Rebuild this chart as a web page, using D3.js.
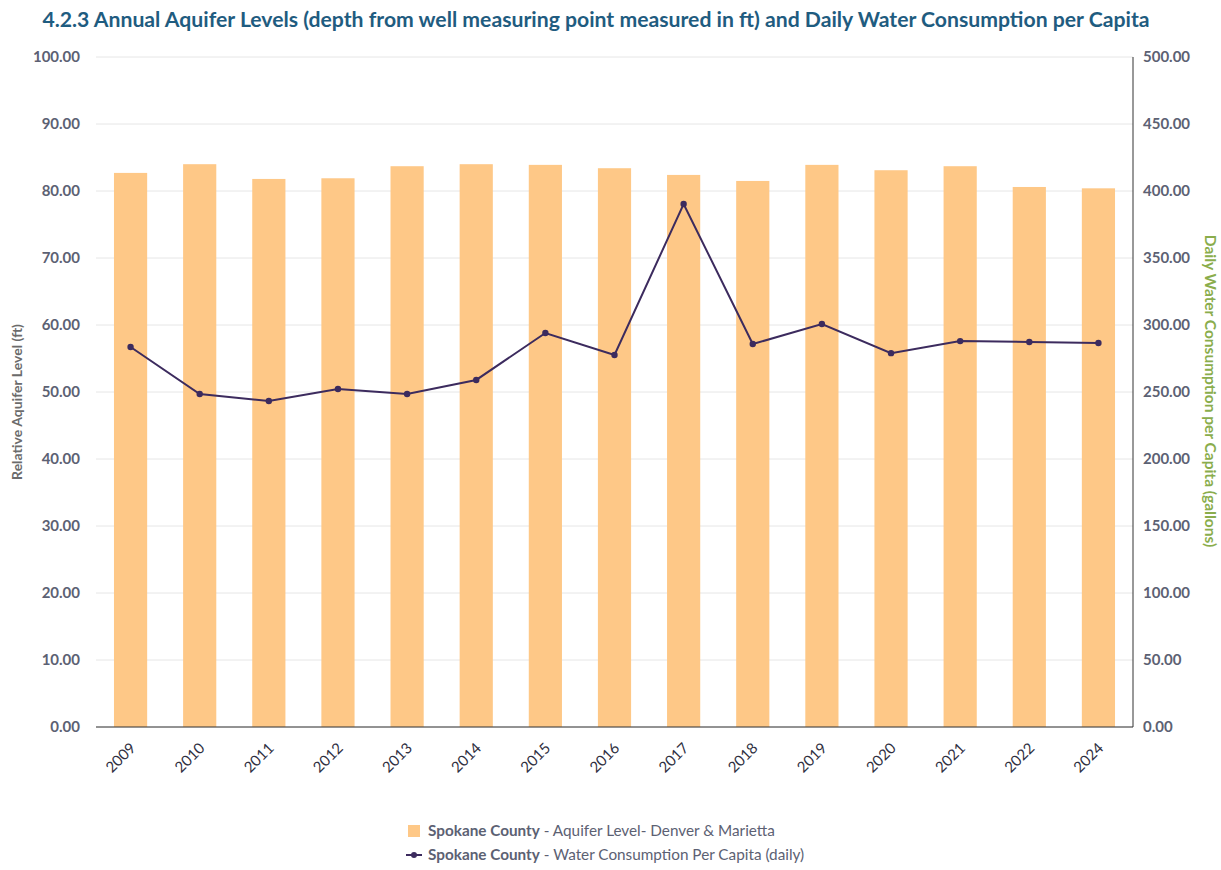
<!DOCTYPE html>
<html>
<head>
<meta charset="utf-8">
<script src="https://cdn.jsdelivr.net/npm/d3@7"></script>
<style>
  body { margin: 0; background: #fff; font-family: Lato, sans-serif; }
</style>
</head>
<body>
<svg id="chart" width="1221" height="870"></svg>
<script>
var years = ["2009", "2010", "2011", "2012", "2013", "2014", "2015", "2016", "2017", "2018", "2019", "2020", "2021", "2022", "2024"];
var aquiferLevel = [82.7, 84.0, 81.8, 81.9, 83.7, 84.0, 83.9, 83.4, 82.4, 81.5, 83.9, 83.1, 83.7, 80.6, 80.4];
var consumption = [283.6, 248.5, 243.3, 252.2, 248.5, 259.0, 294.0, 277.6, 390.3, 285.8, 300.7, 279.0, 288.0, 287.3, 286.6];
var leftTicks = [0, 10, 20, 30, 40, 50, 60, 70, 80, 90, 100];
var rightTicks = [0, 50, 100, 150, 200, 250, 300, 350, 400, 450, 500];

var margin = { top: 57, right: 88, bottom: 143, left: 96 },
  w = 1221 - margin.left - margin.right,
  h = 870 - margin.top - margin.bottom;

var svg = d3.select("#chart");
var g = svg.append("g").attr("transform", `translate(${margin.left}, ${margin.top})`);

var x = d3.scaleBand().domain(years).range([0, w]).paddingInner(0.52).paddingOuter(0.26);
var yL = d3.scaleLinear().domain([0, 100]).range([h, 0]);
var yR = d3.scaleLinear().domain([0, 500]).range([h, 0]);

// gridlines
g.selectAll(".grid").data(leftTicks).join("line")
  .attr("x1", 0).attr("x2", w)
  .attr("y1", d => yL(d)).attr("y2", d => yL(d))
  .attr("stroke", "#e6e6e6");

// bars
g.selectAll(".bar").data(years).join("rect")
  .attr("x", d => x(d))
  .attr("y", (d, i) => yL(aquiferLevel[i]))
  .attr("width", x.bandwidth())
  .attr("height", (d, i) => yL(0) - yL(aquiferLevel[i]))
  .attr("fill", "#fec887");

// axes lines
g.append("line").attr("x1", 0).attr("x2", w).attr("y1", h).attr("y2", h).attr("stroke", "#333");
g.append("line").attr("x1", w).attr("x2", w).attr("y1", 0).attr("y2", h).attr("stroke", "#333");

var tickStyle = sel => sel.attr("font-size", 15).attr("font-weight", "bold").attr("fill", "#5c6173");

g.selectAll(".ltick").data(leftTicks).join("text")
  .attr("x", -16).attr("y", d => yL(d)).attr("dy", "0.35em")
  .attr("text-anchor", "end").text(d => d.toFixed(2)).call(tickStyle);

g.selectAll(".rtick").data(rightTicks).join("text")
  .attr("x", w + 10).attr("y", d => yR(d)).attr("dy", "0.35em")
  .attr("text-anchor", "start").text(d => d.toFixed(2)).call(tickStyle);

g.selectAll(".xtick").data(years).join("text")
  .attr("transform", d => `translate(${x(d) + x.bandwidth() / 2 + 6}, ${h + 22}) rotate(-45)`)
  .attr("text-anchor", "end").attr("font-size", 15).attr("fill", "#2f2f3f")
  .text(d => d);

// line
var line = d3.line()
  .x((d, i) => x(years[i]) + x.bandwidth() / 2)
  .y(d => yR(d));
g.append("path").datum(consumption)
  .attr("d", line).attr("fill", "none")
  .attr("stroke", "#3c2b5e").attr("stroke-width", 2);
g.selectAll(".pt").data(consumption).join("circle")
  .attr("cx", (d, i) => x(years[i]) + x.bandwidth() / 2)
  .attr("cy", d => yR(d)).attr("r", 3.2).attr("fill", "#3c2b5e");

// title
svg.append("text").attr("x", 596).attr("y", 27).attr("text-anchor", "middle")
  .attr("font-size", 21.2).attr("font-weight", "bold").attr("fill", "#1f5c80")
  .text("4.2.3 Annual Aquifer Levels (depth from well measuring point measured in ft) and Daily Water Consumption per Capita");

// axis labels
svg.append("text").attr("transform", `translate(22, ${margin.top + h / 2 + 10}) rotate(-90)`)
  .attr("text-anchor", "middle").attr("font-size", 14).attr("font-weight", "bold").attr("fill", "#6b6b6b")
  .text("Relative Aquifer Level (ft)");
svg.append("text").attr("transform", `translate(1205, ${margin.top + h / 2 - 1}) rotate(90)`)
  .attr("text-anchor", "middle").attr("font-size", 15.5).attr("font-weight", "bold").attr("fill", "#8aad4c")
  .text("Daily Water Consumption per Capita (gallons)");

// legend
var lg = svg.append("g").attr("font-size", 15.3).attr("fill", "#5c6173");
lg.append("rect").attr("x", 408).attr("y", 825).attr("width", 12).attr("height", 12).attr("fill", "#fec887");
var t1 = lg.append("text").attr("x", 428).attr("y", 836);
t1.append("tspan").attr("font-weight", "bold").text("Spokane County");
t1.append("tspan").text(" - Aquifer Level- Denver & Marietta");
lg.append("line").attr("x1", 406).attr("x2", 422).attr("y1", 855).attr("y2", 855).attr("stroke", "#3c2b5e").attr("stroke-width", 2);
lg.append("circle").attr("cx", 414).attr("cy", 855).attr("r", 3).attr("fill", "#3c2b5e");
var t2 = lg.append("text").attr("x", 428).attr("y", 860);
t2.append("tspan").attr("font-weight", "bold").text("Spokane County");
t2.append("tspan").text(" - Water Consumption Per Capita (daily)");
</script>
</body>
</html>
